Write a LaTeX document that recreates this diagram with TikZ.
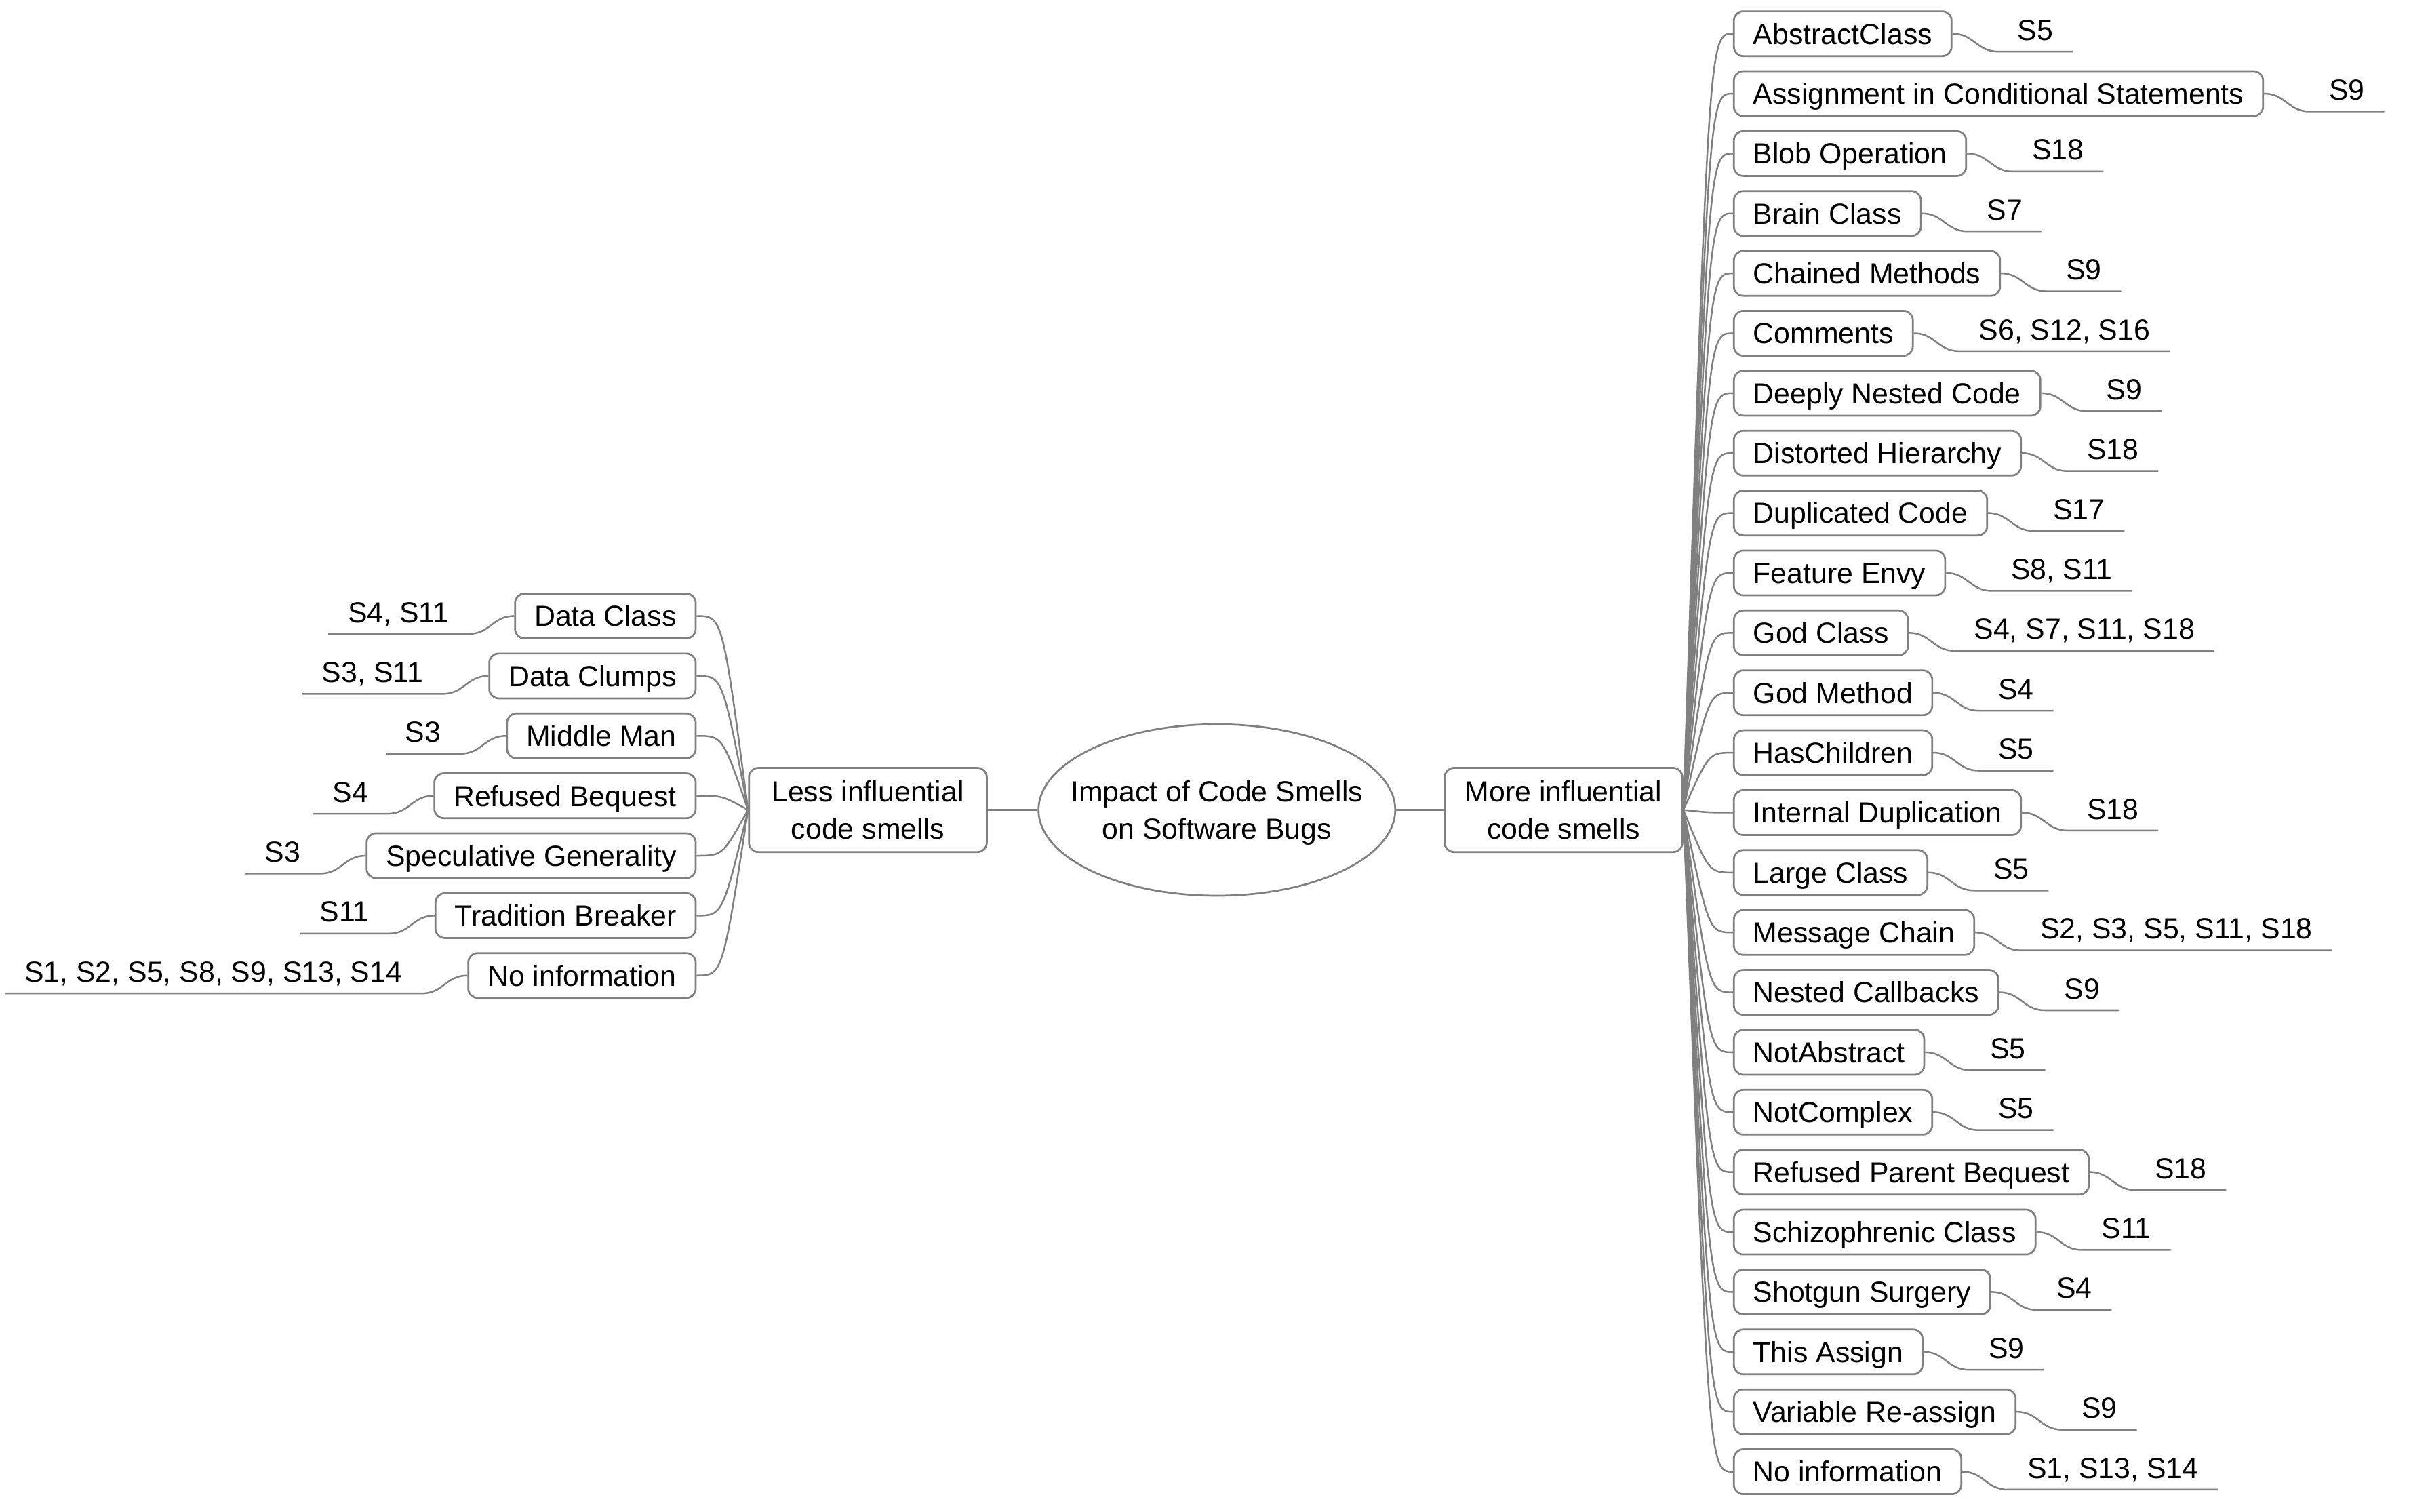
\documentclass[tikz,border=0pt]{standalone}
\usepackage{fontspec}
\setmainfont{Liberation Sans}
\usetikzlibrary{shapes.geometric, positioning}
\definecolor{edge}{RGB}{128,128,128}
\tikzset{
  topic/.style={draw=edge, line width=1.2pt, rounded corners=6pt, minimum height=29pt,
    inner xsep=12.5pt, inner ysep=0pt, text height=13.5pt, text depth=0pt},
  main/.style={draw=edge, line width=1.2pt, rounded corners=6pt, minimum height=54.5pt,
    minimum width=154pt, inner xsep=10pt, align=center, text depth=0pt},
  hub/.style={ellipse, draw=edge, line width=1.2pt, minimum width=231pt, minimum height=111pt,
    inner xsep=-20pt, inner ysep=0pt, align=center, text depth=0pt},
  refs/.style={inner xsep=12.5pt, inner ysep=7.2pt, text height=13.5pt, text depth=0pt},
  link/.style={draw=edge, line width=1.1pt}
}
\begin{document}
\begin{tikzpicture}[x=1pt, y=-1pt, font=\fontsize{18.8}{24.2}\selectfont]
\useasboundingbox (0,0) rectangle (1560,979.1);
\node[hub] (imp) at (788,524.5) {Impact of Code Smells\\on Software Bugs};
\node[main] (less) at (562,524.5) {Less influential\\code smells};
\node[main] (more) at (1012.5,524.5) {More influential\\code smells};
\draw[link] (less) -- (imp) -- (more);
\coordinate (lj) at ([xshift=-16.5pt]less.west);
\coordinate (rj) at ([xshift=16.5pt]more.east);

\foreach \t/\s [count=\i from 0] in {Data Class/{S4, S11}, Data Clumps/{S3, S11}, Middle Man/S3,
    Refused Bequest/S4, Speculative Generality/S3, Tradition Breaker/S11,
    No information/{S1, S2, S5, S8, S9, S13, S14}} {
  \node[topic, anchor=east] (l\i) at (451.1,398.9+38.8*\i) {\t};
  \node[refs, anchor=south east] (ls\i) at ([shift={(-29.5,11.6)}]l\i.west) {\s};
  \draw[link] (less.west) .. controls (lj |- l\i.east) .. (l\i.east);
  \draw[link] (l\i.west) .. controls +(-14,0) and +(14,0) .. (ls\i.south east) -- (ls\i.south west);
}

\foreach \t/\s [count=\i from 0] in {AbstractClass/S5, Assignment in Conditional Statements/S9,
    Blob Operation/S18, Brain Class/S7, Chained Methods/S9, Comments/{S6, S12, S16},
    Deeply Nested Code/S9, Distorted Hierarchy/S18, Duplicated Code/S17, Feature Envy/{S8, S11},
    God Class/{S4, S7, S11, S18}, God Method/S4, HasChildren/S5, Internal Duplication/S18,
    Large Class/S5, Message Chain/{S2, S3, S5, S11, S18}, Nested Callbacks/S9, NotAbstract/S5,
    NotComplex/S5, Refused Parent Bequest/S18, Schizophrenic Class/S11, Shotgun Surgery/S4,
    This Assign/S9, Variable Re-assign/S9, No information/{S1, S13, S14}} {
  \node[topic, anchor=west] (r\i) at (1122.2,21.8+38.8*\i) {\t};
  \node[refs, anchor=south west] (rs\i) at ([shift={(29.5,11.6)}]r\i.east) {\s};
  \draw[link] (more.east) .. controls (rj |- r\i.west) .. (r\i.west);
  \draw[link] (r\i.east) .. controls +(14,0) and +(-14,0) .. (rs\i.south west) -- (rs\i.south east);
}
\end{tikzpicture}
\end{document}
